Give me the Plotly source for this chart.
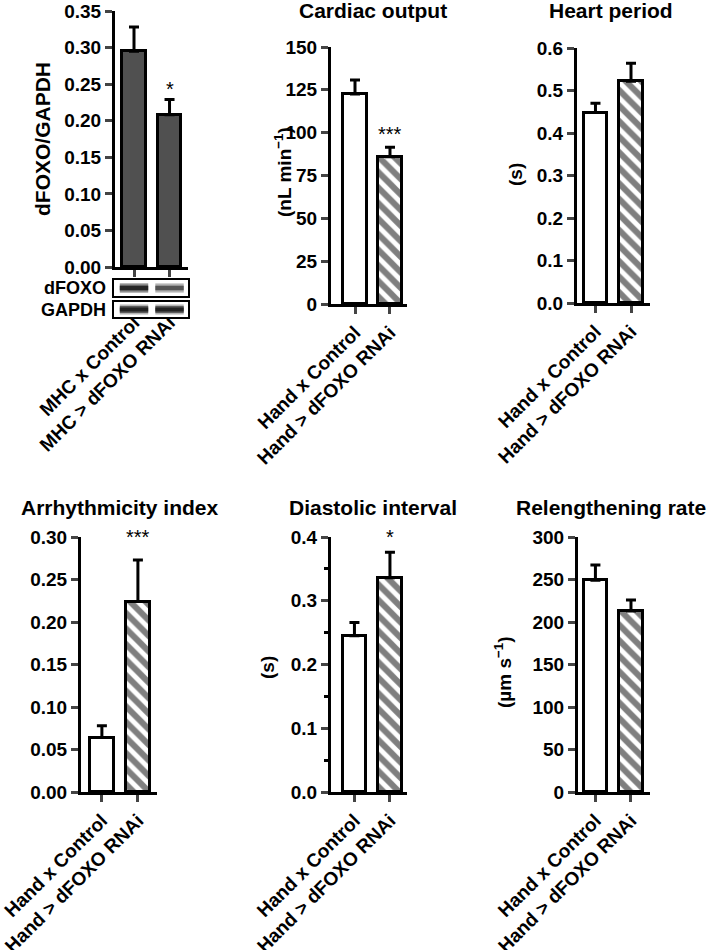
"""Six-panel bar figure: dFOXO knockdown and heart function."""

import plotly.graph_objects as go

W, H = 709, 950
FONT = "Arial, Liberation Sans, sans-serif"

# ---- data -----------------------------------------------------------------
mhc_groups = ["MHC x Control", "MHC > dFOXO RNAi"]
hand_groups = ["Hand x Control", "Hand > dFOXO RNAi"]

foxo_ratio = [0.295, 0.208]
foxo_ratio_sem = [0.033, 0.021]

cardiac_output = [122.5, 86.0]
cardiac_output_sem = [8.3, 5.5]

heart_period = [0.448, 0.522]
heart_period_sem = [0.022, 0.042]

arrhythmicity = [0.064, 0.224]
arrhythmicity_sem = [0.014, 0.049]

diastolic_interval = [0.245, 0.336]
diastolic_interval_sem = [0.021, 0.040]

relengthening = [249, 213]
relengthening_sem = [18, 13]

# relative band darkness of the western blot (0 = none, 1 = black)
blot_foxo = [0.85, 0.55]
blot_gapdh = [0.9, 0.9]


def px(x):
    return x / W


def py(y):
    return 1 - y / H


fig = go.Figure()

# panel layout in pixels: (axis left, axis right, top, bottom, x range)
panels = [
    dict(cats=mhc_groups, vals=foxo_ratio, sem=foxo_ratio_sem, hatch=False, fill="#505050",
         box=(115, 188, 11, 267), xr=[-0.535, 1.52], yr=[0, 0.35], dtick=0.05, fmt=".2f",
         tsize=19, standoff=27),
    dict(cats=hand_groups, vals=cardiac_output, sem=cardiac_output_sem, hatch=True, fill="white",
         box=(331, 407, 47, 304), xr=[-0.686, 1.486], yr=[0, 150], dtick=25, fmt="d",
         tsize=19, standoff=0),
    dict(cats=hand_groups, vals=heart_period, sem=heart_period_sem, hatch=True, fill="white",
         box=(577, 650, 48, 303), xr=[-0.52, 1.535], yr=[0, 0.6], dtick=0.1, fmt=".1f",
         tsize=19, standoff=0),
    dict(cats=hand_groups, vals=arrhythmicity, sem=arrhythmicity_sem, hatch=True, fill="white",
         box=(81, 157, 537, 792), xr=[-0.58, 1.53], yr=[0, 0.30], dtick=0.05, fmt=".2f",
         tsize=19, standoff=0),
    dict(cats=hand_groups, vals=diastolic_interval, sem=diastolic_interval_sem, hatch=True,
         fill="white", box=(331, 407, 537, 792), xr=[-0.66, 1.48], yr=[0, 0.4], dtick=0.1,
         fmt=".1f", tsize=19, standoff=0, minor=0.05),
    dict(cats=hand_groups, vals=relengthening, sem=relengthening_sem, hatch=True, fill="white",
         box=(578, 650, 537, 792), xr=[-0.49, 1.535], yr=[0, 300], dtick=50, fmt="d",
         tsize=19, standoff=0),
]

layout_axes = {}
for i, p in enumerate(panels, start=1):
    xa = "x" if i == 1 else f"x{i}"
    ya = "y" if i == 1 else f"y{i}"
    for j in range(2):
        if p["hatch"] and j == 1:
            marker = dict(color="white", line=dict(color="black", width=3),
                          pattern=dict(shape="\\", fgcolor="black", bgcolor="white",
                                       size=11, solidity=0.55))
        else:
            marker = dict(color=p["fill"], line=dict(color="black", width=3))
        fig.add_trace(go.Bar(
            x=[j], y=[p["vals"][j]], width=0.66, marker=marker,
            error_y=dict(type="data", symmetric=False, array=[p["sem"][j]], arrayminus=[0],
                         color="black", thickness=3, width=5),
            xaxis=xa, yaxis=ya, showlegend=False, hoverinfo="skip",
        ))
    l, r, t, b = p["box"]
    layout_axes["xaxis" if i == 1 else f"xaxis{i}"] = dict(
        domain=[px(l), px(r)], anchor=ya, range=p["xr"], tickmode="array",
        tickvals=[0, 1], ticktext=p["cats"], tickangle=-45, ticks="outside", ticklen=7,
        tickwidth=2.5, showline=True, linewidth=3, linecolor="black", showgrid=False,
        zeroline=False, ticklabelstandoff=p["standoff"], automargin=False,
        ticklabeloverflow="allow",
        tickfont=dict(family=FONT, size=19, color="black", weight="bold"),
    )
    yaxis = dict(
        domain=[py(b), py(t)], anchor=xa, range=p["yr"], dtick=p["dtick"], tick0=0,
        tickformat=p["fmt"], ticks="outside", ticklen=7, tickwidth=2.5, showline=True,
        linewidth=3, linecolor="black", showgrid=False, zeroline=False, automargin=False,
        ticklabeloverflow="allow",
        tickfont=dict(family=FONT, size=p["tsize"], color="black", weight="bold"),
    )
    if "minor" in p:
        yaxis["minor"] = dict(dtick=p["minor"], ticks="outside", ticklen=4, tickwidth=2.5,
                              tickcolor="black", showgrid=False)
    layout_axes["yaxis" if i == 1 else f"yaxis{i}"] = yaxis

annotations = []

# panel titles
titles = [("Cardiac output", 373, 11), ("Heart period", 611, 11),
          ("Arrhythmicity index", 120, 507), ("Diastolic interval", 373, 507)]
for text, x, y in titles:
    annotations.append(dict(text=text, x=px(x), y=py(y), xref="paper", yref="paper",
                            showarrow=False, xanchor="center", yanchor="middle",
                            font=dict(family=FONT, size=21, color="black", weight="bold")))
annotations.append(dict(text="Relengthening rate", x=px(514), y=py(507), xref="paper",
                        yref="paper", showarrow=False, xanchor="left", yanchor="middle",
                        font=dict(family=FONT, size=21, color="black", weight="bold")))

# y-axis titles
ytitles = [("dFOXO/GAPDH", 43, 139, 21), ("(nL min<sup>−1</sup>)", 283, 172, 19),
           ("(s)", 515, 175, 19), ("(s)", 267, 668, 19), ("(µm s<sup>−1</sup>)", 503, 672, 19)]
for text, x, y, size in ytitles:
    annotations.append(dict(text=text, x=px(x), y=py(y), xref="paper", yref="paper",
                            showarrow=False, textangle=-90, xanchor="center", yanchor="middle",
                            font=dict(family=FONT, size=size, color="black", weight="bold")))

# significance marks (panel index, label, y in data units)
stars = [(1, "*", 0.243), (2, "***", 99), (4, "***", 0.300), (5, "*", 0.400)]
for i, text, yv in stars:
    annotations.append(dict(text=text, x=1, y=yv, xref="x" if i == 1 else f"x{i}",
                            yref="y" if i == 1 else f"y{i}", showarrow=False,
                            xanchor="center", yanchor="middle",
                            font=dict(family=FONT, size=20, color="black")))

# western blot under panel 1
blot_labels = [("dFOXO", 288), ("GAPDH", 310)]
for text, y in blot_labels:
    annotations.append(dict(text=text, x=px(108), y=py(y), xref="paper", yref="paper",
                            showarrow=False, xanchor="right", yanchor="middle",
                            font=dict(family=FONT, size=18, color="black", weight="bold")))

shapes = []
blot_rows = [(279, 297, blot_foxo), (301, 318, blot_gapdh)]
for top, bot, dens in blot_rows:
    shapes.append(dict(type="rect", xref="paper", yref="paper", x0=px(113), x1=px(189),
                       y0=py(bot), y1=py(top), line=dict(color="black", width=2),
                       fillcolor="white"))
    mid = (top + bot) / 2
    for j, d in enumerate(dens):
        for half, alpha in [(5, 0.35), (3.5, 0.6), (2, 0.9)]:
            shapes.append(dict(type="rect", xref="x", yref="paper", x0=j - 0.4, x1=j + 0.4,
                               y0=py(mid + half), y1=py(mid - half), line=dict(width=0),
                               fillcolor=f"rgba(20,20,20,{alpha * d:.2f})"))

fig.update_layout(
    width=W, height=H, margin=dict(l=0, r=0, t=0, b=0, autoexpand=False),
    paper_bgcolor="white", plot_bgcolor="white", bargap=0,
    annotations=annotations, shapes=shapes, **layout_axes,
)

# drop the default page margin so the figure sits at the window's top-left corner
fig.write_html("out.html", config={"displayModeBar": False},
               post_script="document.body.style.margin = '0';")
